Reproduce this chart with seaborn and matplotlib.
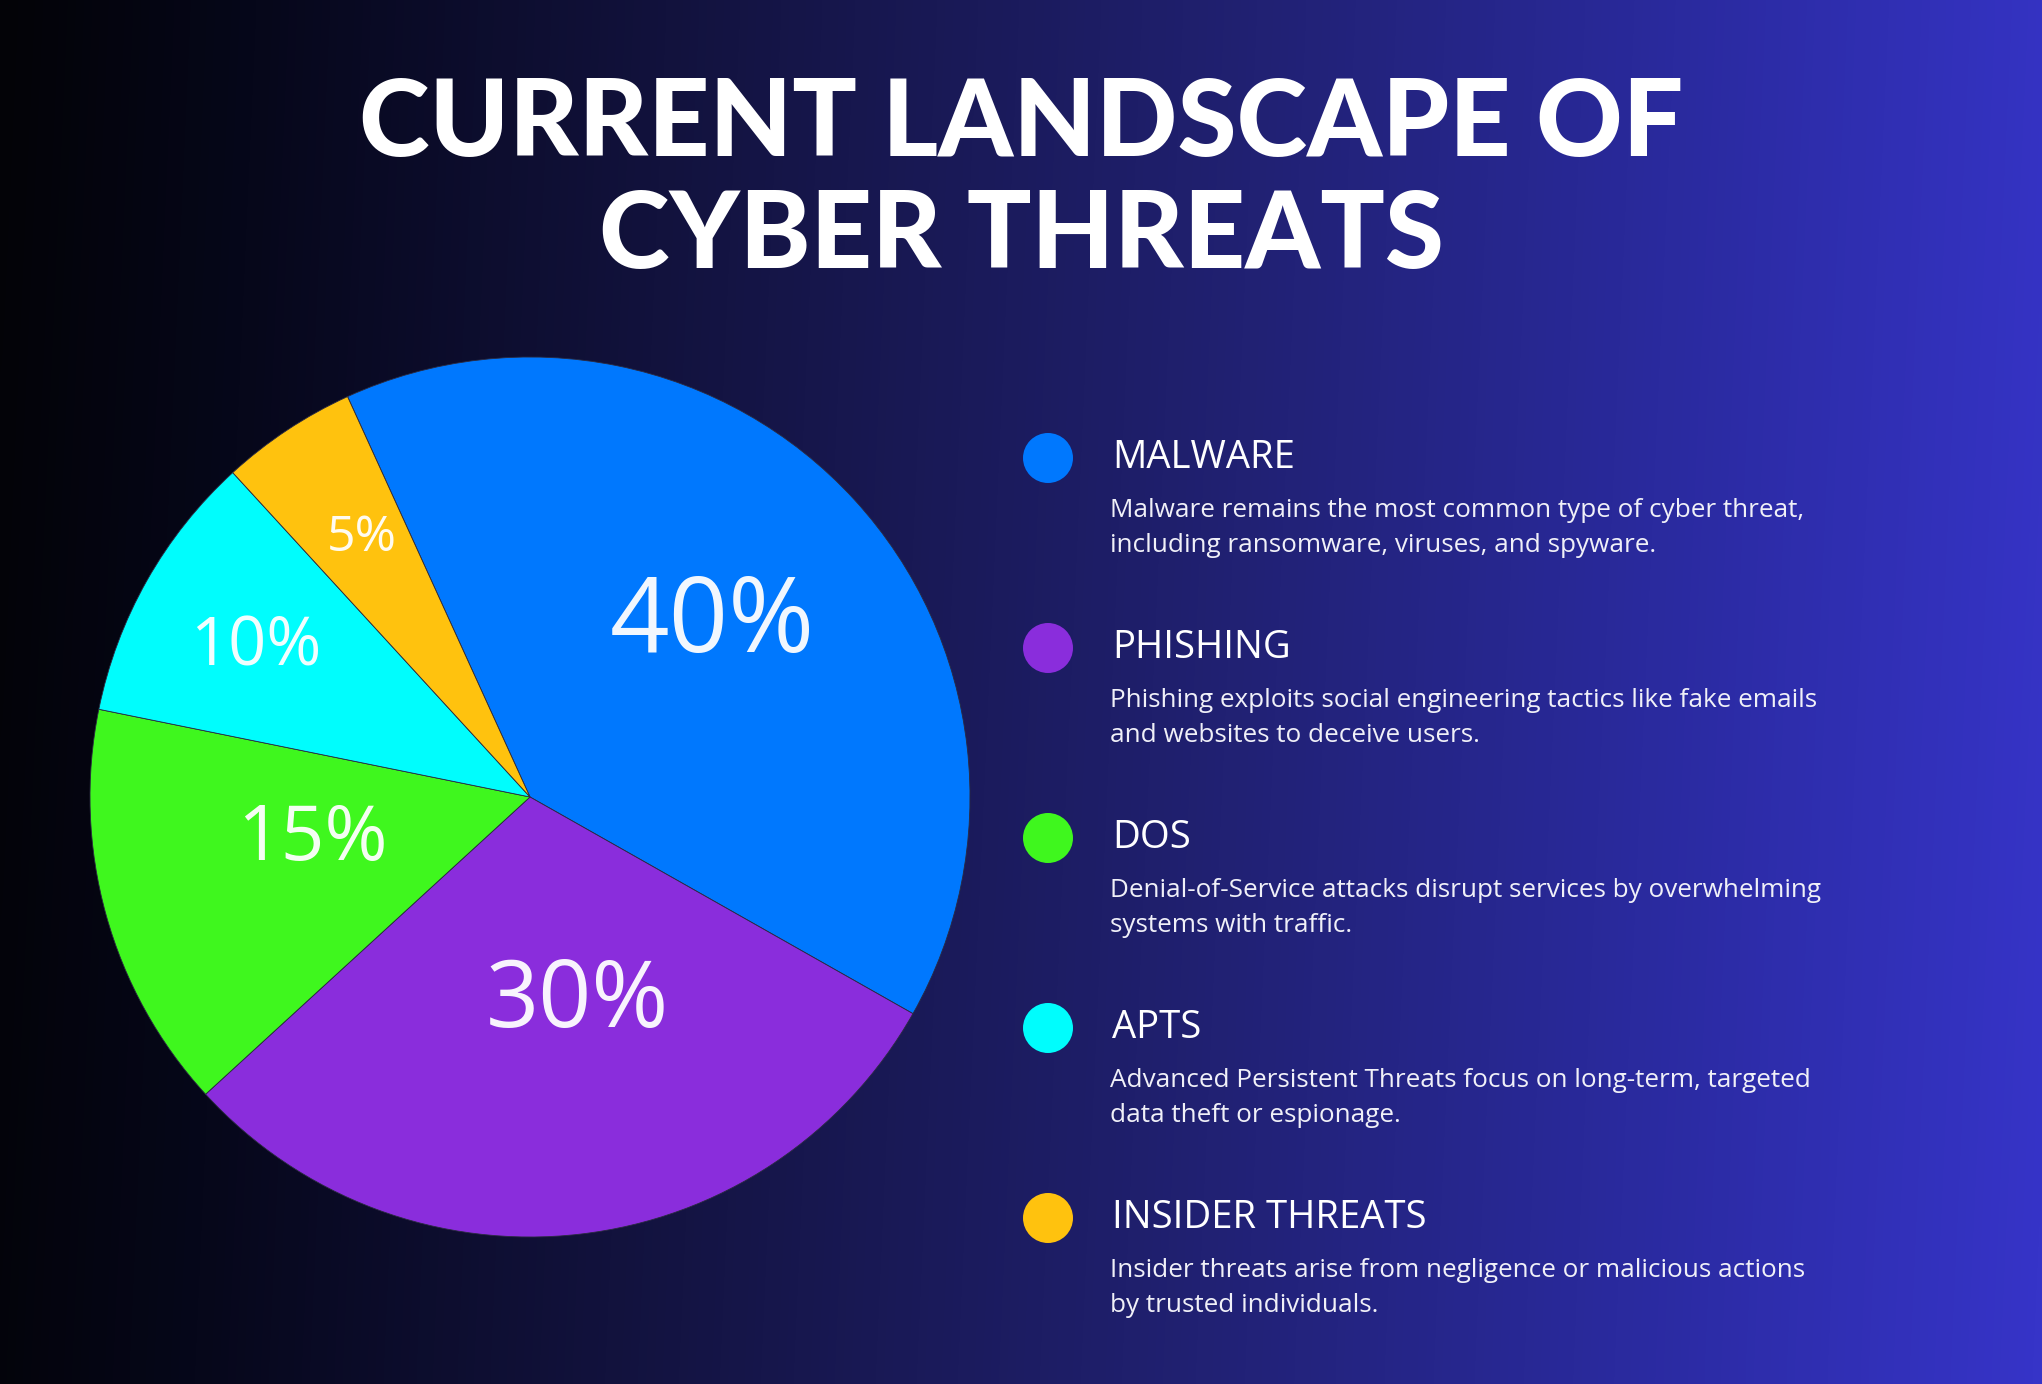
import numpy as np
import matplotlib
matplotlib.use("Agg")
import matplotlib.pyplot as plt
from matplotlib.colors import LinearSegmentedColormap
import seaborn as sns
import pandas as pd

# ---------------- data ----------------
categories = ["MALWARE", "PHISHING", "DOS", "APTS", "INSIDER THREATS"]
shares = [40, 30, 15, 10, 5]
colors = ["#0078FE", "#8A2DDC", "#3FF71E", "#00FDFD", "#FFC20E"]
descriptions = [
    "Malware remains the most common type of cyber threat,\nincluding ransomware, viruses, and spyware.",
    "Phishing exploits social engineering tactics like fake emails\nand websites to deceive users.",
    "Denial-of-Service attacks disrupt services by overwhelming\nsystems with traffic.",
    "Advanced Persistent Threats focus on long-term, targeted\ndata theft or espionage.",
    "Insider threats arise from negligence or malicious actions\nby trusted individuals.",
]
title = "CURRENT LANDSCAPE OF\nCYBER THREATS"

# ---------------- layout / style ----------------
label_r = [0.57, 0.48, 0.505, 0.71, 0.70]
label_dtheta = [1.0, 6.5, -4.5, 1.0, -0.5]
label_sizes = [75, 67, 55, 48, 36]

sns.set_theme(style="white")
plt.rcParams["font.family"] = ["Open Sans", "DejaVu Sans"]

W, H = 2042, 1384
fig = plt.figure(figsize=(W / 100, H / 100), dpi=100)

# background gradient
ax_bg = fig.add_axes([0, 0, 1, 1], zorder=0)
bg_cmap = LinearSegmentedColormap.from_list(
    "bg",
    [(0.0, "#030307"), (0.12, "#06071a"), (0.35, "#141443"),
     (0.6, "#212173"), (0.8, "#2a2a9e"), (1.0, "#3634c8")])
gx = np.linspace(0, 1, 512)
gy = np.linspace(0, 1, 64)
grad = gx[None, :] + 0.03 * gy[:, None]
ax_bg.imshow(grad, aspect="auto", cmap=bg_cmap, extent=[0, 1, 0, 1],
             vmin=0, vmax=1.03, interpolation="bicubic")
ax_bg.set_axis_off()

# pie
cx, cy, R = 530, 797, 440
half = 1.1 * R
ax = fig.add_axes([(cx - half) / W, (H - cy - half) / H, 2 * half / W, 2 * half / H], zorder=1)
df = pd.DataFrame({"category": categories, "share": shares})
wedges, _ = ax.pie(df["share"], colors=colors, startangle=114.5, counterclock=False,
                   wedgeprops=dict(linewidth=0.6, edgecolor="#2a2a40"))
ax.set_xlim(-1.1, 1.1)
ax.set_ylim(-1.1, 1.1)
ax.set_aspect("equal")
ax.set_axis_off()
for w, v, r, dt, fs in zip(wedges, df["share"], label_r, label_dtheta, label_sizes):
    th = np.deg2rad((w.theta1 + w.theta2) / 2 + dt)
    ax.text(r * np.cos(th), r * np.sin(th), f"{v}%", ha="center", va="center",
            color="white", fontsize=fs, fontweight="normal", alpha=0.95)

# overlay for text and legend (pixel coords)
ov = fig.add_axes([0, 0, 1, 1], zorder=2)
ov.patch.set_alpha(0)

leg_y = [458 + 190 * i for i in range(len(categories))]
leg_df = pd.DataFrame({"x": [1048] * len(categories), "y": leg_y, "category": categories})
sns.scatterplot(data=leg_df, x="x", y="y", hue="category", palette=colors,
                s=(50 * 0.72) ** 2, linewidth=0, legend=False, ax=ov)
ov.set_xlim(0, W)
ov.set_ylim(H, 0)
ov.set_axis_off()

ov.text(W / 2, 181, title, ha="center", va="center", color="white",
        fontsize=77, fontweight="black", linespacing=1.17,
        family=["Lato", "DejaVu Sans"])

for yy, cat, desc in zip(leg_y, categories, descriptions):
    ov.text(1112, yy, cat, ha="left", va="center", color="white", fontsize=27.5,
            fontweight="normal")
    ov.text(1110, yy + 70, desc, ha="left", va="center", color="#f0f0f8", fontsize=18.8,
            linespacing=1.5)

fig.savefig("out.png", dpi=100)
